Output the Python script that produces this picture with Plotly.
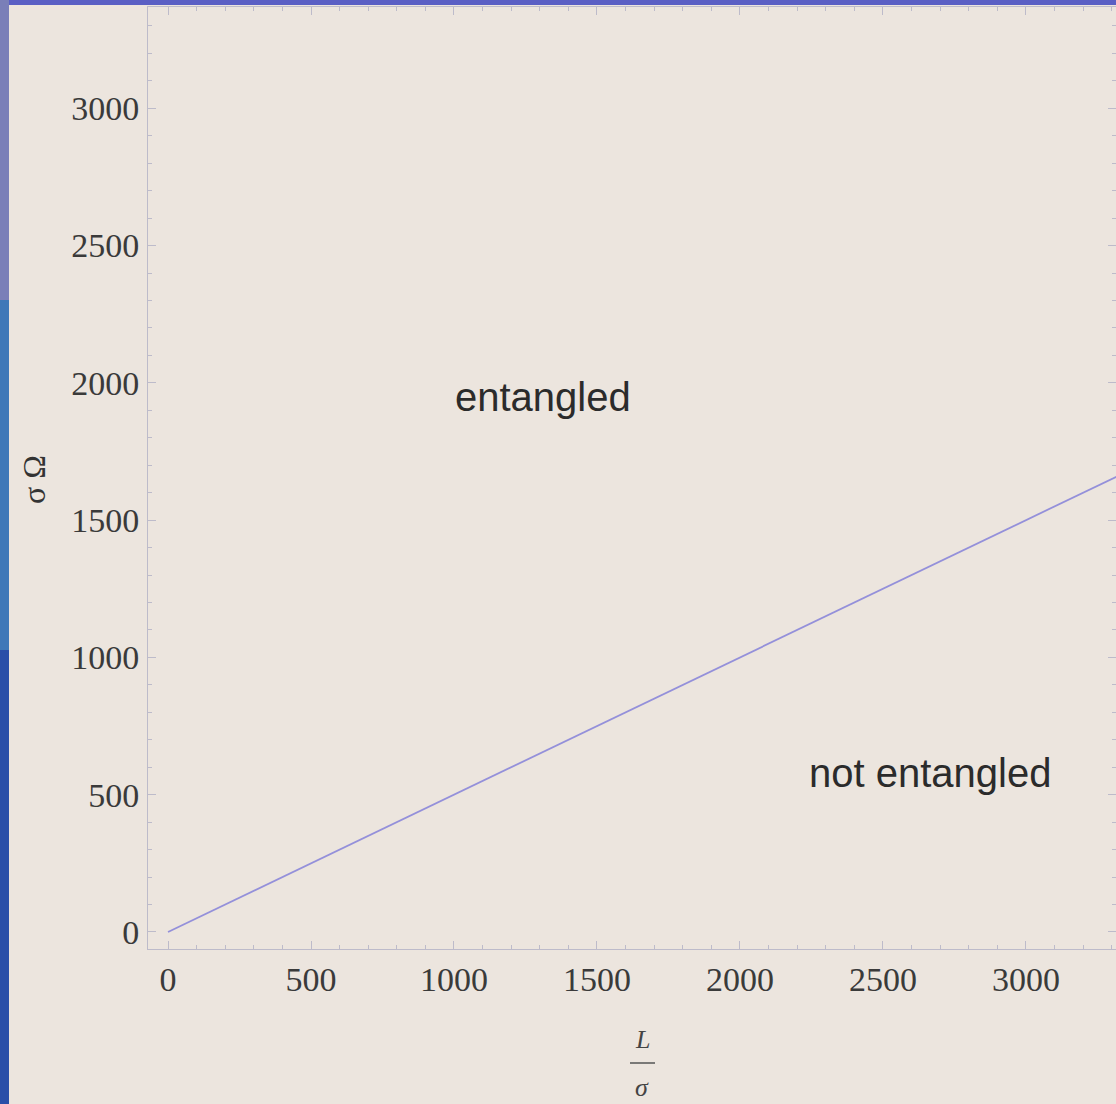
import plotly.graph_objects as go

# Separatrix between the two regimes: Omega*sigma versus L/sigma
boundary_L_over_sigma = [0, 3400]
boundary_omega_sigma = [0, 1700]

# Region labels and where they sit in data coordinates
region_labels = ["entangled", "not entangled"]
region_x = [1311, 2664]
region_y = [1948, 579]

tick_values = [0, 500, 1000, 1500, 2000, 2500, 3000]
tick_text = ["0", "500", "1000", "1500", "2000", "2500", "3000"]

W, H = 1116, 1104
ML, MR, MT, MB = 148, 0, 7, 155
PW, PH = W - ML - MR, H - MT - MB


def px_x(p):
    return (p - ML) / PW


def px_y(p):
    return (H - MB - p) / PH


BG = "#ece5de"
FRAME = "#bdbbca"
SERIF = "Liberation Serif, Times New Roman, serif"
SANS = "Liberation Sans, Arial, sans-serif"

fig = go.Figure()
fig.add_trace(go.Scatter(
    x=boundary_L_over_sigma, y=boundary_omega_sigma, mode="lines",
    line=dict(color="#9490da", width=1.8), showlegend=False, hoverinfo="skip",
))

for txt, xv, yv in zip(region_labels, region_x, region_y):
    fig.add_annotation(x=xv, y=yv, text=txt, showarrow=False,
                       font=dict(family=SANS, size=40, color="#2b2b2b"))

axis_common = dict(
    showline=True, linecolor=FRAME, linewidth=1, mirror="allticks",
    ticks="inside", ticklen=8, tickcolor=FRAME, tickwidth=1,
    showgrid=False, zeroline=False,
    tickvals=tick_values, ticktext=tick_text,
    tickfont=dict(family=SERIF, size=34, color="#3a3a3a"),
    minor=dict(dtick=100, ticks="inside", ticklen=4, tickcolor=FRAME, tickwidth=1, showgrid=False),
)

fig.update_xaxes(range=[-70, 3315], ticklabelstandoff=0, **axis_common)
fig.update_yaxes(range=[-62, 3369], ticklabelstandoff=1, **axis_common)

# Axis titles: L/sigma as a stacked fraction, sigma Omega rotated
fig.add_annotation(xref="paper", yref="paper", x=px_x(642), y=px_y(1056), text="<i>L</i>",
                   showarrow=False, font=dict(family=SERIF, size=26, color="#444444"))
fig.add_annotation(xref="paper", yref="paper", x=px_x(642), y=px_y(1104), text="<i>σ</i>",
                   showarrow=False, font=dict(family=SERIF, size=26, color="#444444"))
fig.add_shape(type="line", xref="paper", yref="paper",
              x0=px_x(630), x1=px_x(655), y0=px_y(1063), y1=px_y(1063),
              line=dict(color="#555555", width=1.5))
fig.add_annotation(xref="paper", yref="paper", x=px_x(14), y=px_y(480), text="σ Ω",
                   textangle=-90, showarrow=False,
                   font=dict(family=SERIF, size=32, color="#333333"))

# Slide border strips along the top and left edges
fig.add_shape(type="rect", xref="paper", yref="paper", layer="above",
              x0=px_x(0), x1=px_x(W), y0=px_y(5), y1=px_y(0),
              line=dict(width=0), fillcolor="#5a5fc4")
strip = [(0, 300, "#7a7fb8"), (300, 650, "#3f78b8"), (650, 1104, "#2a4fa8")]
for y0, y1, col in strip:
    fig.add_shape(type="rect", xref="paper", yref="paper", layer="above",
                  x0=px_x(0), x1=px_x(9), y0=px_y(y1), y1=px_y(y0),
                  line=dict(width=0), fillcolor=col)

fig.update_layout(
    width=W, height=H, autosize=False,
    margin=dict(l=ML, r=MR, t=MT, b=MB),
    paper_bgcolor=BG, plot_bgcolor=BG,
    showlegend=False,
)

fig.write_html("out.html")
